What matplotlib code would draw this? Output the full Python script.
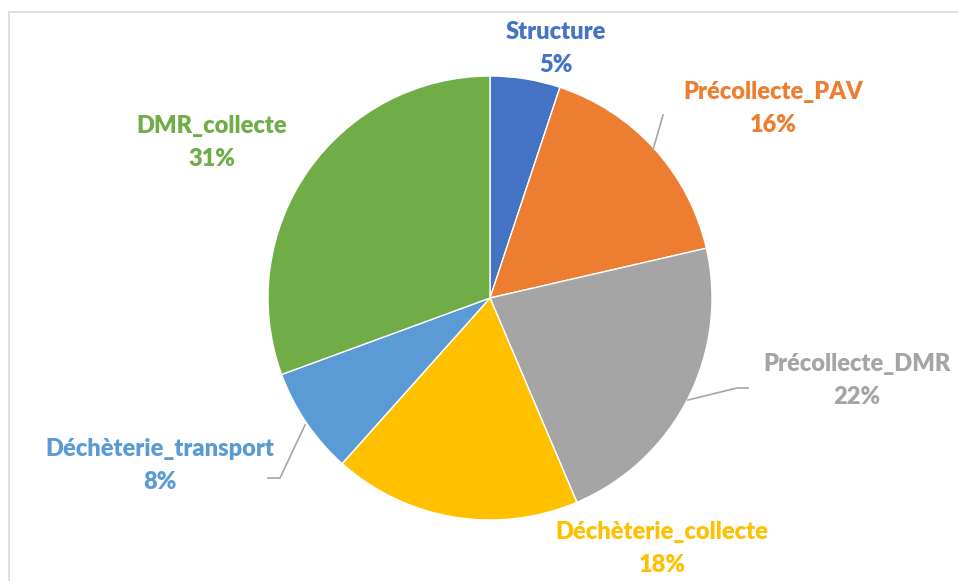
import matplotlib.pyplot as plt
from matplotlib.patches import Rectangle

labels = ['Structure', 'Précollecte_PAV', 'Précollecte_DMR',
          'Déchèterie_collecte', 'Déchèterie_transport', 'DMR_collecte']
values = [5.1, 16.3, 22.2, 18.0, 7.8, 30.6]
pcts = ['5%', '16%', '22%', '18%', '8%', '31%']
colors = ['#4472C4', '#ED7D31', '#A5A5A5', '#FFC000', '#5B9BD5', '#70AD47']

# label centres in pixels (top-left origin)
label_pos = [(556, 32), (773, 92), (857, 364), (662, 532), (160, 449), (212, 126)]

W, H = 958, 581
fig = plt.figure(figsize=(W / 100, H / 100), dpi=100)
ax = fig.add_axes([0, 0, 1, 1])

ax.pie(values, colors=colors, startangle=90, counterclock=False,
       center=(490, H - 298), radius=222,
       wedgeprops=dict(edgecolor='white', linewidth=1))

# pie() resets the limits, so set them afterwards
ax.set_xlim(0, W)
ax.set_ylim(0, H)
ax.set_aspect('equal')
ax.axis('off')

# chart frame
ax.add_patch(Rectangle((9, -20), 960, H - 12 + 20, fill=False,
                       edgecolor='#D9D9D9', linewidth=1.2))

# leader lines
ax.plot([653, 663], [H - 150, H - 115], color='#A6A6A6', lw=1.2)
ax.plot([688, 737, 748], [H - 400, H - 388, H - 388], color='#A6A6A6', lw=1.2)
ax.plot([305, 280, 268], [H - 425, H - 478, H - 478], color='#A6A6A6', lw=1.2)

for lab, p, c, (x, y) in zip(labels, pcts, colors, label_pos):
    ax.text(x, H - y, lab, color=c, fontsize=17, fontweight='heavy',
            family='Lato', ha='center', va='center')
    ax.text(x, H - y - 33, p, color=c, fontsize=17, fontweight='heavy',
            family='Lato', ha='center', va='center')

fig.savefig('out.png', dpi=100)
